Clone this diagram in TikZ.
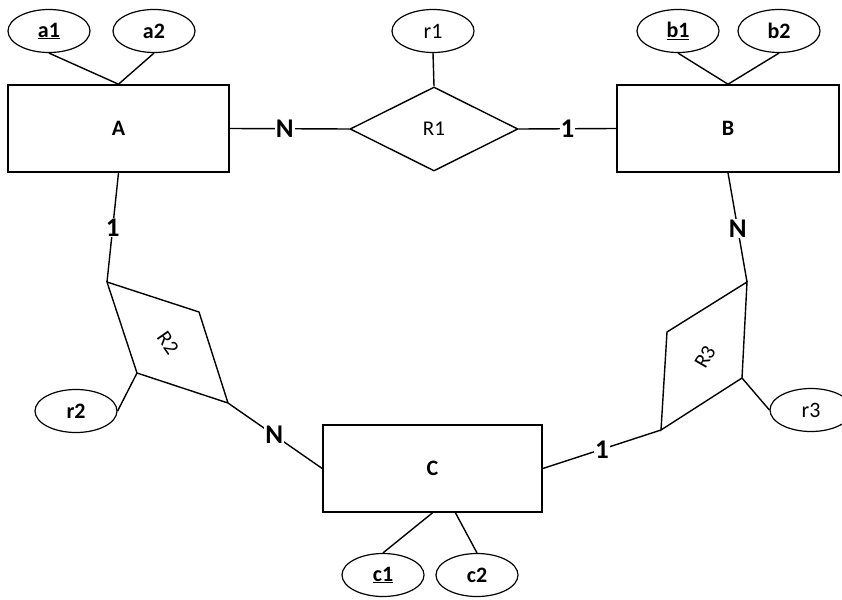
\documentclass[tikz,border=0pt]{standalone}
\usepackage{fontspec}
\setmainfont{Carlito}
\usetikzlibrary{shapes.geometric}
\begin{document}
\begin{tikzpicture}[x=1pt,y=-1pt,
 conn/.style={line width=1.4pt},
 ent/.style={draw, line width=1.6pt, minimum width=#1, minimum height=87pt, inner sep=0pt, font=\fontsize{22}{22}\selectfont\bfseries},
 attr/.style={draw, ellipse, line width=1.2pt, minimum width=82pt, minimum height=43pt, inner sep=0pt, font=\fontsize{22}{22}\selectfont},
 battr/.style={attr, font=\fontsize{22}{22}\selectfont\bfseries},
 relname/.style={font=\fontsize{21}{21}\selectfont},
 card/.style={fill=white, inner sep=1pt, font=\fontsize{27}{27}\selectfont\bfseries},
]
\useasboundingbox (0,0) rectangle (842,599);
\fill[white] (0,0) rectangle (842,599);

% entities
\node[ent=221pt] (A) at (118.5,128.5) {A};
\node[ent=222pt] (B) at (728,128.5) {B};
\node[ent=219pt] (C) at (432.5,468.5) {C};

% attributes
\node[battr] (a1) at (49,31) {\underline{a1}};
\node[battr] (a2) at (154,31) {a2};
\node[battr] (b1) at (678,31) {\underline{b1}};
\node[battr] (b2) at (779,31) {b2};
\node[battr] (c1) at (383,575) {\underline{c1}};
\node[battr] (c2) at (477,575) {c2};
\node[attr] (r1) at (433,31) {r1};
\node[battr] (r2) at (76,411) {r2};
\node[attr] (r3) at (811,410) {r3};

% relationship R1
\node[diamond, draw, conn, minimum width=168pt, minimum height=84pt, inner sep=0pt, aspect=2, relname] (R1) at (434,129) {R1};

% relationship R2 (skewed)
\coordinate (R2t) at (107,282);
\coordinate (R2r) at (199,312);
\coordinate (R2b) at (228,403);
\coordinate (R2l) at (137,373);
\draw[conn, line join=miter] (R2t) -- (R2r) -- (R2b) -- (R2l) -- cycle;
\node[relname, rotate=-55, inner sep=0pt] (R2) at (168,343) {R2};

% relationship R3 (skewed)
\coordinate (R3t) at (747,282);
\coordinate (R3l) at (667,332);
\coordinate (R3b) at (661,430);
\coordinate (R3r) at (742,378);
\draw[conn, line join=miter] (R3t) -- (R3l) -- (R3b) -- (R3r) -- cycle;
\node[relname, rotate=60, inner sep=0pt] (R3) at (705,357) {R3};

% attribute links
\draw[conn] (a1.south) -- (A.north);
\draw[conn] (a2.south) -- (A.north);
\draw[conn] (b1.south) -- (B.north);
\draw[conn] (b2.south) -- (B.north);
\coordinate (Cs2) at (455,512);
\draw[conn] (c1.north) -- (C.south);
\draw[conn] (c2.north) -- (Cs2);
\draw[conn] (r1.south) -- (R1.north);
\draw[conn] (r2.east) -- (R2l);
\draw[conn] (r3.west) -- (R3r);

% relationship links with cardinalities
\draw[conn] (A.east) -- node[card, pos=0.46] (nA) {N} (R1.west);
\draw[conn] (R1.east) -- node[card, pos=0.5] (oB) {1} (B.west);
\draw[conn] (A.south) -- node[card, pos=0.5] (oA) {1} (R2t);
\draw[conn] (R2b) -- node[card, pos=0.49] (nC) {N} (C.west);
\draw[conn] (B.south) -- node[card, pos=0.51] (nB) {N} (R3t);
\draw[conn] (R3b) -- node[card, pos=0.5] (oC) {1} (C.east);
\end{tikzpicture}
\end{document}
